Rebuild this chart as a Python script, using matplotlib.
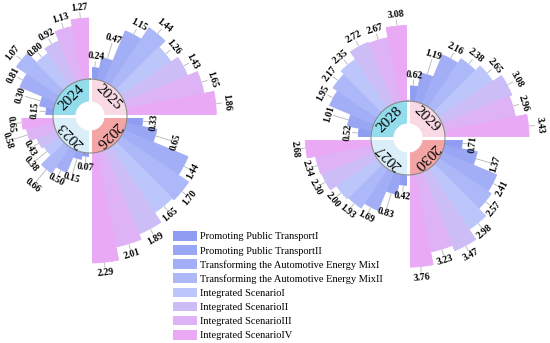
import numpy as np
import matplotlib.pyplot as plt
from matplotlib.patches import Patch

plt.rcParams['font.family'] = ['Liberation Serif', 'DejaVu Serif']

# ================= DATA =================
scenarios = ["Promoting Public TransportI", "Promoting Public TransportII",
             "Transforming the Automotive Energy MixI",
             "Transforming the Automotive Energy MixII",
             "Integrated ScenarioI", "Integrated ScenarioII",
             "Integrated ScenarioIII", "Integrated ScenarioIV"]

v2023 = [0.07, 0.15, 0.50, 0.66, 0.38, 0.43, 0.58, 0.65]
v2024 = [0.15, 0.30, 0.81, 1.07, 0.80, 0.92, 1.13, 1.27]
v2025 = [0.24, 0.47, 1.15, 1.44, 1.26, 1.43, 1.65, 1.86]
v2026 = [0.33, 0.65, 1.44, 1.70, 1.65, 1.89, 2.01, 2.29]
v2027 = [0.42, 0.83, 1.69, 1.93, 2.00, 2.30, 2.34, 2.68]
v2028 = [0.52, 1.01, 1.95, 2.17, 2.35, 2.72, 2.67, 3.08]
v2029 = [0.62, 1.19, 2.16, 2.38, 2.65, 3.08, 2.96, 3.43]
v2030 = [0.71, 1.37, 2.41, 2.57, 2.98, 3.47, 3.23, 3.76]

# quadrants clockwise from 12 o'clock
left_years = ["2025", "2026", "2023", "2024"]
left_data = [v2025, v2026, v2023, v2024]
right_years = ["2029", "2030", "2027", "2028"]
right_data = [v2029, v2030, v2027, v2028]

# ================= STYLE =================
colors = ["#8E9CF2", "#98A6F4", "#A2AEF6", "#ACB8F8",
          "#BCC6FA", "#CDBDF7", "#DDB3F6", "#E9A9F5"]
ring_colors = ["#F8D9E4", "#F3A5A5", "#D9EEF8", "#92DCEC"]

W, H = 550, 343
fig = plt.figure(figsize=(W / 100, H / 100), dpi=100)


def add_rose(cx, cy, px_per_unit, rmax_px, years, data):
    ax = fig.add_axes([(cx - rmax_px) / W, (H - cy - rmax_px) / H,
                       2 * rmax_px / W, 2 * rmax_px / H], projection='polar')
    ax.set_theta_zero_location('N')
    ax.set_theta_direction(-1)
    ax.set_ylim(0, rmax_px / px_per_unit)
    ax.axis('off')

    u = 1 / px_per_unit          # one pixel in radial units
    hole = 15 * u
    base = 37 * u
    width = np.deg2rad(90 / 8)

    for q, (year, vals) in enumerate(zip(years, data)):
        start = np.deg2rad(90 * q)
        th = start + width * (np.arange(8) + 0.5)
        ax.bar(th, vals, width=width, bottom=base, color=colors,
               edgecolor=colors, linewidth=0.6)

        # inner ring with the year
        ax.bar(start + np.pi / 4, base - hole, width=np.pi / 2, bottom=hole,
               color=ring_colors[q], edgecolor=ring_colors[q], linewidth=0.5)
        ax.text(start + np.pi / 4, (hole + base) / 2, year,
                rotation=-(90 * q + 45), rotation_mode='anchor',
                ha='center', va='center', fontsize=11)

        # value labels with leader lines, staggered near the centre
        for i, (t, v) in enumerate(zip(th, vals)):
            r_end = base + v
            r_lab = r_end + 11 * u
            stagger = (i < 4 and i % 2 == 1) or (4 <= i < 7 and i % 2 == 0)
            if stagger and r_lab < 85 * u:
                r_lab += 10 * u
            ax.plot([t, t], [r_end + 1 * u, r_lab - 5 * u],
                    color="#b5b5b5", lw=0.6)
            deg = np.degrees(t)
            rot = -deg
            if 90 < deg < 270:
                rot += 180
            ax.text(t, r_lab, f"{v:.2f}", rotation=rot,
                    rotation_mode='anchor', ha='center', va='center',
                    fontsize=7, fontweight='bold')

    # white gaps between quadrants
    for a in range(4):
        t = np.deg2rad(90 * a)
        ax.plot([t, t], [0, rmax_px * u], color='white', lw=2.2,
                solid_capstyle='butt')

    circ = np.linspace(0, 2 * np.pi, 300)
    ax.plot(circ, np.full_like(circ, base), color="#8a8a8a", lw=0.8)
    return ax


add_rose(90, 116, 48, 173, left_years, left_data)
add_rose(408, 138, 24.5, 147, right_years, right_data)

# ================= LEGEND =================
handles = [Patch(facecolor=c, edgecolor='none', label=s)
           for c, s in zip(colors, scenarios)]
fig.legend(handles=handles, loc='upper left',
           bbox_to_anchor=(173 / W, 1 - 231 / H), frameon=False,
           fontsize=7.5, handlelength=2.3, handleheight=1.05,
           handletextpad=0.3, labelspacing=0.36, borderpad=0,
           borderaxespad=0)

fig.savefig("out.png", dpi=100)
